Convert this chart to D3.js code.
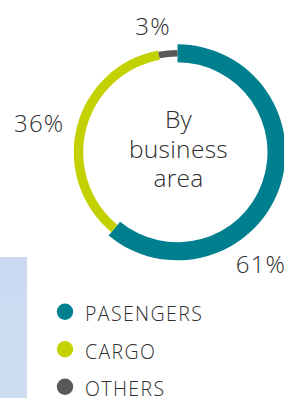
<!DOCTYPE html>
<html>
<head>
<meta charset="utf-8">
<script src="https://cdn.jsdelivr.net/npm/d3@7/dist/d3.min.js"></script>
<style>
  html, body { margin: 0; padding: 0; background: #fff; }
  svg { display: block; }
  text { font-family: "Open Sans", sans-serif; font-weight: 300; fill: #2e2e2e; }
</style>
</head>
<body>
<div id="chart"></div>
<script>
// data
const categories = ['PASENGERS', 'CARGO', 'OTHERS'];
const shares = [61, 36, 3];
const shareLabels = ['61%', '36%', '3%'];
const centerTitle = ['By', 'business', 'area'];

const colors = ['#007f8f', '#c3d100', '#58585a'];

const width = 284, height = 398;
const cx = 177.5, cy = 152.3;
const midR = 99;
// ring thickness per segment
const thick = [18, 9.5, 6.5];
// label placement (angle in degrees, radius) around the ring
const labelAngle = [145.4, 278.4, 348.2];
const labelRadius = [147, 139.8, 119.5];

const svg = d3.select('#chart').append('svg')
    .attr('width', width)
    .attr('height', height);

// light blue panel on the left
const panel = svg.append('defs').append('linearGradient')
    .attr('id', 'panelGrad')
    .attr('x1', 0).attr('y1', 0).attr('x2', 0).attr('y2', 1);
panel.append('stop').attr('offset', '0%').attr('stop-color', '#cbdaf1');
panel.append('stop').attr('offset', '100%').attr('stop-color', '#cfddf1');
svg.append('rect')
    .attr('x', 0).attr('y', 257)
    .attr('width', 27).attr('height', height - 257)
    .attr('fill', 'url(#panelGrad)');

const pie = d3.pie().sort(null).value(d => d);
const arcs = pie(shares);

const g = svg.append('g').attr('transform', `translate(${cx},${cy})`);

g.selectAll('path.seg').data(arcs).enter().append('path')
    .attr('class', 'seg')
    .attr('d', (d, i) => d3.arc()
        .innerRadius(midR - thick[i] / 2)
        .outerRadius(midR + thick[i] / 2)(d))
    .attr('fill', (d, i) => colors[i]);

// percentage labels
g.selectAll('text.pct').data(shareLabels).enter().append('text')
    .attr('class', 'pct')
    .text(d => d)
    .attr('x', (d, i) => d3.pointRadial(labelAngle[i] * Math.PI / 180, labelRadius[i])[0])
    .attr('y', (d, i) => d3.pointRadial(labelAngle[i] * Math.PI / 180, labelRadius[i])[1])
    .attr('text-anchor', 'middle')
    .style('font-size', '24px')
    .style('letter-spacing', '1.2px');

// center title
const lineOffsets = [-24, 5.5, 35];
g.selectAll('text.title').data(centerTitle).enter().append('text')
    .attr('class', 'title')
    .text(d => d)
    .attr('x', 1)
    .attr('y', (d, i) => lineOffsets[i])
    .attr('text-anchor', 'middle')
    .style('font-size', '24.5px')
    .style('letter-spacing', '0.3px');

// legend
const legendY = d3.scalePoint().domain(categories).range([311.7, 386.7]);
const legend = svg.selectAll('g.legend').data(categories).enter().append('g')
    .attr('class', 'legend')
    .attr('transform', d => `translate(65,${legendY(d)})`);

legend.append('circle')
    .attr('r', 8.2)
    .attr('fill', (d, i) => colors[i]);

legend.append('text')
    .text(d => d)
    .attr('x', 20)
    .attr('y', 9.6)
    .style('font-size', '19.5px')
    .style('letter-spacing', '1.4px');
</script>
</body>
</html>
